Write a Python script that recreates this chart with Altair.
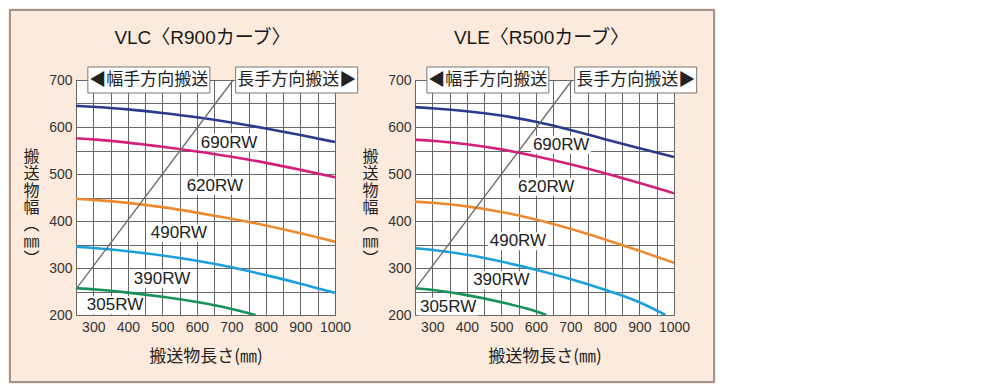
import altair as alt
import pandas as pd

# ---------------- data ----------------
series_names = ["690RW", "620RW", "490RW", "390RW", "305RW"]
series_colors = ["#2c3a8c", "#d4207a", "#ec8a30", "#1ca0dc", "#16915a"]

length_grid = [250, 300, 400, 500, 600, 700, 800, 900, 1000]

# VLC (R900 curve)
vlc_690rw = [645, 643, 638, 630, 621, 610, 597, 583, 568]
vlc_620rw = [576, 574, 567, 558, 548, 537, 524, 509, 493]
vlc_490rw = [447, 445, 439, 430, 418, 405, 391, 374, 356]
vlc_390rw = [345, 343, 336, 327, 316, 302, 285, 267, 247]
vlc_305rw_len = [250, 300, 400, 500, 600, 700, 770]
vlc_305rw = [257, 255, 248, 239, 228, 214, 200]

# VLE (R500 curve)
vle_690rw = [642, 640, 634, 625, 612, 594, 574, 555, 536]
vle_620rw = [573, 571, 564, 553, 538, 521, 502, 481, 459]
vle_490rw = [441, 439, 432, 420, 404, 384, 361, 337, 311]
vle_390rw_len = [250, 300, 400, 500, 600, 700, 800, 900, 975]
vle_390rw = [342, 339, 329, 314, 297, 277, 254, 229, 200]
vle_305rw_len = [250, 300, 400, 500, 600, 630]
vle_305rw = [257, 254, 243, 228, 209, 200]

# boundary between width-wise / length-wise transport
diag_len = [250, 705]
diag_width = [255, 700]

# curve label anchor positions (data units)
vlc_label_len = [693, 652, 548, 499, 363]
vlc_label_width = [567, 475, 374, 277, 221]
vle_label_len = [673, 630, 548, 500, 346]
vle_label_width = [562, 473, 357, 274, 218]

dir_texts = ["◀幅手方向搬送", "長手方向搬送▶"]
dir_len = [461, 889]
dir_width = [700, 700]

x_ticks = list(range(250, 1001, 50))
y_ticks = list(range(200, 701, 50))

titles = ["VLC〈R900カーブ〉", "VLE〈R500カーブ〉"]
x_title = "搬送物長さ(㎜)"
y_title = ["搬", "送", "物", "幅", "︵", "㎜", "︶"]

# ---------------- styles ----------------
JP = "Noto Sans CJK JP"
NUM = "Liberation Sans Narrow, Liberation Sans, Arial"
MIX = "Liberation Sans Narrow, Liberation Sans, Noto Sans CJK JP"
BEIGE = "#fcebdc"
GRID = "#666666"
LABEL_BOX = "M-1,-0.3L1,-0.3L1,0.3L-1,0.3Z"
DIR_BOX = "M-1,-0.2131L1,-0.2131L1,0.2131L-1,0.2131Z"
PLOT_W = 259
PLOT_H = 235

x_axis = alt.Axis(
    values=x_ticks, format="d",
    labelExpr="datum.value % 100 === 0 ? datum.label : ''",
    grid=True, ticks=False, domain=False, labelFlush=False, labelOverlap=False,
    labelFont=NUM, labelFontSize=14, labelColor="#333", labelPadding=5,
    title=x_title, titleFont=JP, titleFontSize=17, titleFontWeight="normal",
    titleColor="#222", titlePadding=14,
)
y_axis = alt.Axis(
    values=y_ticks, format="d",
    labelExpr="datum.value % 100 === 0 ? datum.label : ''",
    grid=True, ticks=False, domain=False, labelOverlap=False,
    labelFont=NUM, labelFontSize=14, labelColor="#333", labelPadding=4,
    title=y_title, titleFont=JP, titleFontSize=16, titleFontWeight="normal",
    titleColor="#222", titleAngle=0, titleAlign="center", titleBaseline="middle",
    titleX=-45, titleY=76, titleLineHeight=17,
)

X = alt.X("x:Q", scale=alt.Scale(domain=[250, 1000], nice=False, zero=False), axis=x_axis)
Y = alt.Y("y:Q", scale=alt.Scale(domain=[200, 700], nice=False, zero=False), axis=y_axis)


def panel(title, curves, lab_len, lab_width, with_frame):
    rows = []
    for name, (xs, ys) in zip(series_names, curves):
        for a, b in zip(xs, ys):
            rows.append({"x": a, "y": b, "series": name})
    curve_df = pd.DataFrame(rows)

    lines = alt.Chart(curve_df).mark_line(
        strokeWidth=2.6, interpolate="basis", clip=True
    ).encode(
        X, Y,
        color=alt.Color("series:N", scale=alt.Scale(domain=series_names, range=series_colors), legend=None),
    )
    diag = alt.Chart(pd.DataFrame({"x": diag_len, "y": diag_width})).mark_line(
        color="#6b6b6b", strokeWidth=1.3, clip=False
    ).encode(X, Y)

    lab_df = pd.DataFrame({"x": lab_len, "y": lab_width, "t": series_names})
    lab_boxes = alt.Chart(lab_df).mark_point(
        shape=LABEL_BOX, size=3600, filled=True, color="white", opacity=1, strokeWidth=0
    ).encode(X, Y)
    lab_texts = alt.Chart(lab_df).mark_text(
        font=NUM, fontSize=17, color="#222", align="center", baseline="middle"
    ).encode(X, Y, text="t:N")

    dir_df = pd.DataFrame({"x": dir_len, "y": dir_width, "t": dir_texts})
    dir_boxes = alt.Chart(dir_df).mark_point(
        shape=DIR_BOX, size=14884, filled=True, fill="white", stroke="#777",
        strokeWidth=1, opacity=1, clip=False
    ).encode(X, Y)
    dir_label = alt.Chart(dir_df).mark_text(
        font=JP, fontSize=17, color="#222", align="center", baseline="middle", clip=False
    ).encode(X, Y, text="t:N")

    head = alt.Chart(pd.DataFrame({"t": [title]})).mark_text(
        font=MIX, fontSize=19, color="#1a1a1a", align="center", baseline="alphabetic", clip=False
    ).encode(x=alt.value(PLOT_W / 2 - 3), y=alt.value(-36), text="t:N")

    layers = [lab_boxes, lines, diag, lab_texts, dir_boxes, dir_label, head]
    if with_frame:
        frame = alt.Chart(pd.DataFrame({"k": [0]})).mark_rect(
            fillOpacity=0, stroke="#7c7c7c", strokeWidth=1.5, clip=False
        ).encode(x=alt.value(-66), x2=alt.value(638), y=alt.value(-70), y2=alt.value(302))
        layers.append(frame)

    return alt.layer(*layers).properties(width=PLOT_W, height=PLOT_H)


left = panel(
    titles[0],
    [(length_grid, vlc_690rw), (length_grid, vlc_620rw), (length_grid, vlc_490rw),
     (length_grid, vlc_390rw), (vlc_305rw_len, vlc_305rw)],
    vlc_label_len, vlc_label_width, True,
)
right = panel(
    titles[1],
    [(length_grid, vle_690rw), (length_grid, vle_620rw), (length_grid, vle_490rw),
     (vle_390rw_len, vle_390rw), (vle_305rw_len, vle_305rw)],
    vle_label_len, vle_label_width, False,
)

chart = alt.hconcat(left, right, spacing=80, bounds="flush").properties(
    padding=0, background=BEIGE
).configure_view(
    stroke=GRID, strokeWidth=1, fill="white"
).configure_axis(
    gridColor=GRID, gridWidth=1
)

chart.save("out.html", embed_options={"renderer": "svg", "actions": False})
